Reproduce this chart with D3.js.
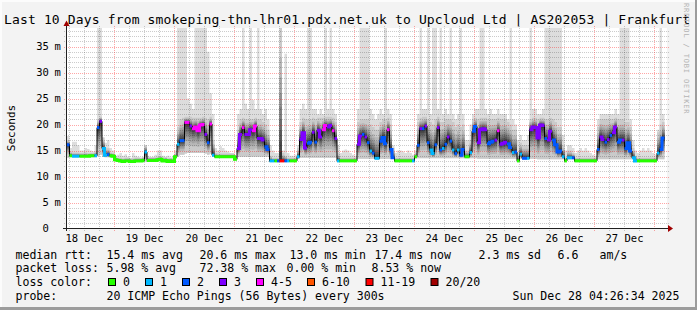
<!DOCTYPE html>
<html><head><meta charset="utf-8">
<script src="https://cdn.jsdelivr.net/npm/d3@7"></script>
<style>
html,body{margin:0;padding:0;background:#f3f3f3}
svg{display:block}
text{font-family:"DejaVu Sans Mono",monospace;fill:#000}
</style>
</head><body>
<svg id="chart" width="697" height="310"></svg>
<script>
// ---------- DATA (hourly, starting 18 Dec 05:00 UTC) ----------
const median = [
16.1,14.0,13.9,13.9,13.9,13.9,13.9,13.9,13.9,14.0,14.0,14.0,19.4,20.6,15.4,14.1,14.2,14.0,13.9,13.2,
13.1,13.0,12.9,13.0,13.0,12.9,12.9,13.0,13.0,13.0,13.1,14.7,13.1,13.1,13.1,13.1,13.2,13.3,13.0,13.1,12.9,13.0,12.9,13.8,
16.2,16.9,16.9,20.4,20.4,19.7,19.2,19.5,18.8,19.9,20.0,18.1,16.5,20.1,14.1,13.8,13.8,13.8,13.8,13.8,13.8,13.8,13.8,13.3,
15.4,18.1,19.4,18.1,18.1,19.0,18.8,19.7,17.3,17.3,17.0,15.7,15.2,13.0,13.0,13.0,13.0,13.0,13.0,13.0,13.0,13.0,13.0,13.0,
13.8,17.1,18.4,15.5,16.4,16.6,18.5,16.6,18.9,17.6,19.0,19.8,19.5,19.8,18.8,17.3,13.0,13.0,13.0,13.0,13.0,13.0,13.0,13.0,
16.2,17.8,18.1,17.6,16.5,14.9,14.5,13.5,13.5,16.8,17.5,16.3,19.0,15.2,13.6,13.0,13.0,13.0,13.0,13.0,13.0,13.0,13.0,13.8,
16.0,19.2,19.2,19.7,16.5,15.1,14.4,16.1,19.4,15.1,15.4,16.2,17.6,16.8,15.1,14.4,15.1,14.1,15.2,13.8,13.8,14.6,18.7,19.6,
16.5,19.0,19.2,19.0,16.3,16.6,16.8,17.0,18.8,16.2,16.4,16.6,16.3,15.6,14.6,14.7,13.0,14.3,13.5,13.5,13.5,19.0,19.5,19.4,
17.4,19.9,19.8,17.3,17.0,18.7,17.0,16.1,14.7,14.9,13.8,13.0,13.6,13.6,13.6,13.0,13.0,13.0,13.0,13.0,13.0,13.0,13.0,13.0,
15.2,17.6,17.1,16.6,17.1,17.9,18.4,19.5,16.6,17.0,17.0,15.4,16.5,14.9,13.6,13.0,13.0,13.0,13.0,13.0,13.0,13.0,13.0,13.0,14.5,15.2,17.4
];
const lostPings = [
2,0,1,1,1,0,0,0,0,0,0,1,2,3,1,1,2,0,0,0,
0,0,0,0,0,0,0,0,0,0,0,1,0,0,0,0,0,0,0,0,0,0,0,0,
1,2,2,4,4,3,4,4,4,4,4,3,2,4,1,0,0,0,0,0,0,0,0,0,
3,3,4,3,3,3,4,4,3,3,3,2,2,1,1,0,2,11,11,2,1,0,0,0,
1,3,3,3,2,2,3,2,3,3,4,4,3,3,4,3,1,0,0,0,0,0,0,0,
3,3,2,3,2,1,2,1,1,2,2,2,4,2,2,0,0,0,0,0,0,0,1,0,
2,3,2,3,2,1,1,2,3,2,1,2,3,2,1,2,1,2,2,0,0,1,2,2,
3,3,3,3,2,2,2,3,4,3,3,3,2,2,1,2,0,1,2,2,1,3,3,3,
3,3,3,2,3,3,2,2,2,2,1,0,1,1,2,0,0,0,0,0,0,0,0,0,
2,3,3,2,3,2,3,3,2,2,3,2,2,2,1,1,0,0,0,0,0,0,0,0,1,2,2
];
const smokeLow = [
13.6,13.7,13.7,13.7,13.7,13.7,13.7,13.7,13.7,13.7,13.7,13.7,13.9,14.2,13.8,13.7,13.7,13.7,13.7,13.0,
12.8,12.8,12.7,12.8,12.8,12.7,12.7,12.8,12.8,12.8,12.9,12.9,12.9,12.9,12.9,12.9,13.0,13.1,12.8,12.9,12.7,12.8,12.7,13.5,
13.9,14.2,14.2,14.4,14.5,14.5,14.5,14.5,14.5,14.5,14.5,14.4,14.2,14.4,13.8,13.6,13.6,13.6,13.6,13.6,13.6,13.6,13.6,13.1,
13.8,13.8,13.8,13.8,13.8,13.8,13.8,13.8,13.8,13.8,13.8,13.8,13.8,12.8,12.8,12.8,12.8,12.8,12.8,12.8,12.8,12.8,12.8,12.8,
13.4,13.6,13.6,13.6,13.6,13.6,13.6,13.6,13.6,13.6,13.6,13.6,13.6,13.6,13.6,13.6,12.8,12.8,12.8,12.8,12.8,12.8,12.8,12.8,
13.4,13.4,13.4,13.4,13.4,13.4,13.4,13.3,13.3,13.4,13.4,13.4,13.4,13.4,13.4,12.8,12.8,12.8,12.8,12.8,12.8,12.8,12.8,13.5,
13.5,13.5,13.5,13.5,13.5,13.5,13.5,13.5,13.5,13.5,13.5,13.5,13.5,13.5,13.5,13.5,13.5,13.5,13.5,13.5,13.5,13.5,13.5,13.5,
13.4,13.4,13.4,13.4,13.4,13.4,13.4,13.4,13.4,13.4,13.4,13.4,13.4,13.4,13.4,13.4,12.8,13.4,13.3,13.3,13.3,13.4,13.4,13.4,
13.3,13.3,13.3,13.3,13.3,13.3,13.3,13.3,13.3,13.3,13.3,12.8,13.3,13.3,13.3,12.8,12.8,12.8,12.8,12.8,12.8,12.8,12.8,12.8,
13.3,13.3,13.3,13.3,13.3,13.3,13.3,13.3,13.3,13.3,13.3,13.3,13.3,13.3,13.3,12.8,12.8,12.8,12.8,12.8,12.8,12.8,12.8,12.8,13.3,13.3,13.3
];
const smokeHigh = [
17.0,14.8,14.6,14.6,14.6,14.5,14.5,14.6,14.5,14.5,14.5,14.8,21.0,21.5,17.5,15.5,15.5,14.6,14.5,13.8,
13.6,13.6,13.5,13.6,13.6,13.5,13.5,13.6,13.6,13.6,13.7,16.0,13.7,13.7,13.7,13.7,13.8,13.9,13.6,13.7,13.5,13.6,13.5,14.4,
19.5,21.0,21.3,21.5,21.5,21.5,21.3,21.3,21.3,21.3,21.5,21.3,21.0,21.5,17.0,14.5,14.4,14.4,14.4,14.4,14.4,14.4,14.4,13.9,
19.0,21.0,21.3,21.0,21.0,21.0,21.0,21.3,21.0,21.0,20.5,20.0,19.0,14.0,13.6,13.6,13.6,40,14.5,14.0,13.6,13.6,13.6,13.6,
15.5,20.5,21.3,21.0,21.0,21.0,21.3,21.0,21.3,21.3,21.3,21.5,21.5,21.5,21.3,20.5,14.5,13.6,13.6,13.6,13.6,13.6,13.6,13.6,
20.5,21.0,21.0,21.0,21.0,20.0,19.5,19.0,19.0,20.5,21.0,21.0,21.3,20.0,15.5,13.6,13.6,13.6,13.6,13.6,13.6,13.6,13.6,14.5,
20.5,21.3,21.5,21.5,21.0,20.5,20.0,21.0,21.5,20.5,20.5,21.0,21.0,21.0,20.5,19.5,20.0,19.5,20.0,15.0,15.0,17.0,21.0,21.3,
21.0,21.3,21.3,21.3,21.0,21.0,21.0,21.0,21.3,21.0,21.0,21.0,20.5,20.0,19.0,19.0,14.5,16.5,16.0,16.0,16.0,21.0,21.3,21.3,
21.0,21.3,21.3,21.0,21.0,21.3,21.0,20.5,19.5,19.5,16.0,13.6,15.0,15.0,14.5,13.6,13.6,13.6,13.6,13.6,13.6,13.6,13.6,13.6,
19.5,21.0,21.0,21.0,21.0,21.0,21.0,21.3,21.0,21.0,21.0,20.5,20.5,19.5,15.5,14.0,13.6,13.6,13.6,13.6,13.6,13.6,13.6,13.6,18.5,20.0,20.5
];
const smokeTop = [
17.8,15.5,16.7,16.7,16.0,15.0,15.0,15.5,15.3,15.0,14.8,16.0,40,40,17.5,16.5,17.0,15.5,15.0,14.0,
14.2,14.5,14.0,14.3,13.8,13.6,14.5,14.0,13.8,13.6,13.8,16.0,14.0,13.6,13.8,14.2,15.0,15.0,14.0,13.8,14.0,13.6,13.8,15.0,
40,40,40,40,25,24,23,40,40,40,40,40,34,26,22,15.5,15.0,15.8,15.5,15.0,14.8,14.5,14.5,14.0,
22,23,40,24,23,40,24.7,23,40,23,22,23,21,16,15,14.5,14.5,40,15,33.6,14.5,14,14,14.2,
16,23,24,23,40,40,23,23,22,23,22,40,23,40,23,22,16,14.5,15.0,15.2,15.0,14.5,14.2,14.0,
23,40,40,40,40,23,22,21,22,23,22,40,23,22,16,14.5,15.0,15.0,14.8,14.5,15.0,14.5,14.2,15,
22,40,23,23,40,22,40,40,23,40,22,23,22,40,22,21,22,40,22,17,17,20,22,23,
23,40,40,23,22,23,22,22,23,22,22,22,21,40,21,20,17,18,17,17,18,40,23,23,
22,22,23,40,40,40,40,40,40,40,18,15,16,16,15.5,14.5,15.0,15.5,15.0,15.5,15.0,14.5,14.2,14.0,
21,22,22,22,22,22,22,23,22,40,40,40,40,21,17,15,14.5,15.0,15.5,15.0,15.5,15.0,14.5,14.2,19,40,22
];
const yTickValues = [0,5,10,15,20,25,30,35];
const dayLabels = ["18 Dec","19 Dec","20 Dec","21 Dec","22 Dec","23 Dec","24 Dec","25 Dec","26 Dec","27 Dec"];
const lossLabels = ["0","1","2","3","4-5","6-10","11-19","20/20"];
const lossColors = ["#26ff00","#00b8ff","#0059ff","#7e00ff","#ff00ff","#ff5500","#ff0000","#a10000"];
const lossThresholds = [1,2,3,4,6,11,20];
const titleText = "Last 10 Days from smokeping-thn-lhr01.pdx.net.uk to Upcloud Ltd | AS202053 | Frankfurt";
const rttStats = [["median rtt:",16],["15.4 ms avg",107],["20.6 ms max",200],["13.0 ms min",290],["17.4 ms now",375],["2.3 ms sd",479],["6.6",558],["am/s",600]];
const lossStats = [["packet loss:",16],["5.98 % avg",107],["72.38 % max",200],["0.00 % min",287],["8.53 % now",372]];
const probeInfo = [["probe:",16],["20 ICMP Echo Pings (56 Bytes) every 300s",107],["Sun Dec 28 04:26:34 2025",513]];

// ---------- CHART ----------
const svg = d3.select("#chart");
const start = new Date(Date.UTC(2025,11,18,5,0,0));
const end = new Date(Date.UTC(2025,11,28,5,0,0));
const x = d3.scaleUtc().domain([start,end]).range([67,667]);
const y = d3.scaleLinear().domain([0,200/5.2]).range([228.5,28.5]);
const tH = h => new Date(start.getTime()+h*3600e3);
const lossColor = d3.scaleThreshold().domain(lossThresholds).range(lossColors);

// background & frame
svg.append("rect").attr("width",697).attr("height",310).attr("fill","#f3f3f3");
svg.append("rect").attr("x",0).attr("y",0).attr("width",697).attr("height",2).attr("fill","#fcfcfc");
svg.append("rect").attr("x",0).attr("y",0).attr("width",2).attr("height",310).attr("fill","#fcfcfc");
svg.append("rect").attr("x",695).attr("y",0).attr("width",2).attr("height",310).attr("fill","#9c9c9c");
svg.append("rect").attr("x",0).attr("y",307).attr("width",697).attr("height",3).attr("fill","#9c9c9c");

// plot area
svg.append("rect").attr("x",67).attr("y",28).attr("width",600).attr("height",200).attr("fill","#fff");
svg.append("clipPath").attr("id","clip").append("rect").attr("x",67).attr("y",28).attr("width",600).attr("height",200);

const n = median.length;
const idx = d3.range(n+1);
const at = (arr,i) => arr[Math.min(i,n-1)];

// smoke layers (10 pairs, outer light -> inner dark)
const gSmoke = svg.append("g").attr("clip-path","url(#clip)");
for (let k=0;k<10;k++){
  const c = Math.round(221 - 19*k);
  const s = k===0 ? 0 : Math.pow((k-1)/9,0.6);
  const area = d3.area()
    .x(i => x(tH(i)))
    .y0(i => {
      const lo = at(smokeLow,i), m = at(median,i);
      return y(k===0 ? lo : lo + (m-lo)*s);
    })
    .y1(i => {
      const m = at(median,i), hi = Math.max(at(smokeHigh,i),m), top = Math.max(at(smokeTop,i),hi);
      return y(k===0 ? top : hi - (hi-m)*s);
    })
    .curve(d3.curveStepAfter);
  gSmoke.append("path").attr("d",area(idx)).attr("fill",`rgb(${c},${c},${c})`);
}

// grid
const gGrid = svg.append("g");
for (let v=1; v<=38; v++){
  const major = v%5===0;
  gGrid.append("line").attr("x1",64).attr("x2",670)
    .attr("y1",Math.round(y(v))+0.5).attr("y2",Math.round(y(v))+0.5)
    .attr("stroke",major?"rgba(255,0,0,0.35)":"rgba(0,0,0,0.2)")
    .attr("stroke-dasharray","1,1");
}
d3.utcHour.every(6).range(start,end).forEach(t => {
  if (t.getTime()===start.getTime()) return;
  const major = t.getUTCHours()===0;
  const xp = Math.round(x(t)-0.5)+0.5;
  gGrid.append("line").attr("x1",xp).attr("x2",xp).attr("y1",26).attr("y2",231)
    .attr("stroke",major?"rgba(255,0,0,0.35)":"rgba(0,0,0,0.2)")
    .attr("stroke-dasharray","1,1");
});

// median line (black) and loss-coloured segments
const gLine = svg.append("g").attr("clip-path","url(#clip)");
const medLine = d3.line().x(i=>x(tH(i))).y(i=>y(at(median,i))).curve(d3.curveStepAfter);
gLine.append("path").attr("d",medLine(idx)).attr("fill","none").attr("stroke","#000").attr("stroke-width",1);
let runStart = 0;
for (let i=1;i<=n;i++){
  if (i===n || lossColor(lostPings[i])!==lossColor(lostPings[runStart])){
    const pts = d3.range(runStart,i).map(j=>[x(tH(j)),y(median[j])]);
    pts.push([x(tH(i)),y(median[i-1])]);
    gLine.append("path").attr("d",d3.line().curve(d3.curveStepAfter)(pts))
      .attr("fill","none").attr("stroke",lossColor(lostPings[runStart])).attr("stroke-width",3);
    runStart = i;
  }
}

// axes
svg.append("line").attr("x1",63).attr("x2",670).attr("y1",228.5).attr("y2",228.5).attr("stroke","#202020");
svg.append("line").attr("x1",66.5).attr("x2",66.5).attr("y1",25).attr("y2",231).attr("stroke","#202020");
svg.append("path").attr("d","M668,225L673,228.5L668,232Z").attr("fill","#a00000");
svg.append("path").attr("d","M63.5,26L66.5,20.5L69.5,26Z").attr("fill","#a00000");

// y labels
yTickValues.forEach(v => {
  const yp = y(v)+3.8;
  svg.append("text").attr("x",48.8).attr("y",yp).attr("text-anchor","end").attr("font-size","10.5px").text(String(v));
  if (v!==0) svg.append("text").attr("x",54.6).attr("y",yp).attr("font-size","10.5px").text("m");
});
// x labels
dayLabels.forEach((lab,i) => {
  const t = new Date(Date.UTC(2025,11,18+i,12,0,0));
  svg.append("text").attr("x",x(t)).attr("y",241.5).attr("text-anchor","middle").attr("font-size","10.5px").text(lab);
});

// y title
svg.append("text").attr("transform","translate(14.5,128) rotate(-90)").attr("text-anchor","middle")
  .attr("font-size","11px").text("Seconds");
// title
svg.append("text").attr("x",4).attr("y",24).attr("font-size","13px")
  .attr("textLength",686).attr("lengthAdjust","spacing").text(titleText);
// watermark
svg.append("text").attr("transform","translate(684,3) rotate(90)").attr("font-size","7px")
  .attr("letter-spacing","0.85px").style("fill","#b4b4b4").text("RRDTOOL / TOBI OETIKER");

// legend
const legendRows = [[rttStats,258.5],[lossStats,272],[probeInfo,299.5]];
legendRows.forEach(([row,yy]) => row.forEach(([txt,xx]) => {
  svg.append("text").attr("x",xx-0.5).attr("y",yy).attr("font-size","11.55px").attr("xml:space","preserve").text(txt);
}));
svg.append("text").attr("x",15.5).attr("y",286).attr("font-size","11.55px").text("loss color:");
const boxX = [108.5,145.5,182.5,219.5,256.5,307.5,366,431];
lossLabels.forEach((lab,i) => {
  svg.append("rect").attr("x",boxX[i]).attr("y",278.5).attr("width",7).attr("height",7)
    .attr("fill",lossColors[i]).attr("stroke","#000").attr("stroke-width",1);
  svg.append("text").attr("x",boxX[i]+14.5).attr("y",286).attr("font-size","11.55px").text(lab);
});
</script>
</body></html>
